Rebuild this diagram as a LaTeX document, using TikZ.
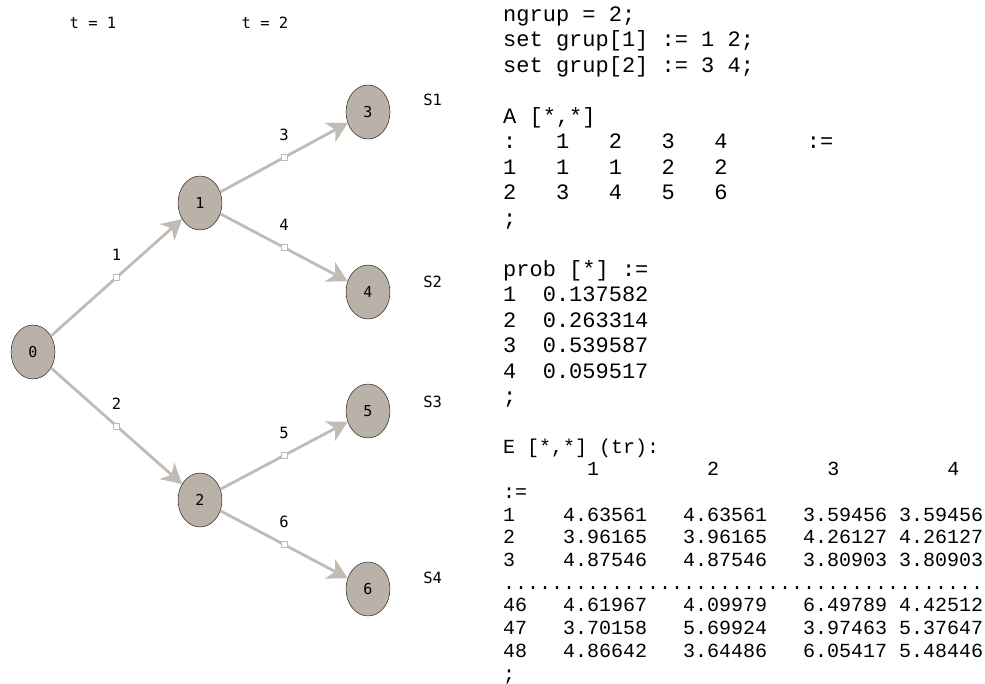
\documentclass[tikz,border=0pt]{standalone}
\usepackage{fontspec}
\setmonofont{Liberation Mono}
\newfontfamily\treefont{DejaVu Sans Mono}
\usetikzlibrary{arrows.meta, positioning, shapes.geometric}
\definecolor{scengray}{RGB}{186,178,168}
\definecolor{branchgray}{RGB}{194,187,179}
\tikzset{
  scen/.style={ellipse, draw=black, thin, fill=scengray, minimum width=44pt,
    minimum height=54pt, inner sep=0pt, font=\treefont\fontsize{15}{15}\selectfont},
  branch/.style={draw=branchgray, line width=2.8pt,
    -{Stealth[length=20pt,width=22pt,inset=6pt]}},
  midbox/.style={draw=branchgray, fill=white, line width=0.8pt, minimum size=6pt,
    inner sep=0pt},
  lbl/.style={font=\treefont\fontsize{15.5}{15.5}\selectfont, inner sep=0pt},
  codetext/.style={anchor=base west, inner sep=0pt, align=left}
}
\begin{document}
\begin{tikzpicture}[x=1pt, y=-1pt]
  \useasboundingbox (0,0) rectangle (985,683);

  \node[lbl] (t1) at (93,23) {t = 1};
  \node[lbl] (t2) at (265,23) {t = 2};

  \node[scen] (n0) at (33,352) {0};
  \node[scen] (n1) at (200,203) {1};
  \node[scen] (n2) at (200,500) {2};
  \node[scen] (n3) at (368,112) {3};
  \node[scen] (n4) at (368,292) {4};
  \node[scen] (n5) at (368,411) {5};
  \node[scen] (n6) at (368,589) {6};

  \node[lbl, right=33pt of n3, yshift=12pt] (s1) {S1};
  \node[lbl, right=33pt of n4, yshift=10pt] (s2) {S2};
  \node[lbl, right=33pt of n5, yshift=9pt] (s3) {S3};
  \node[lbl, right=33pt of n6, yshift=11pt] (s4) {S4};

  \draw[branch] (n0) -- node[midbox] (m1) {} (n1);
  \draw[branch] (n0) -- node[midbox] (m2) {} (n2);
  \draw[branch] (n1) -- node[midbox] (m3) {} (n3);
  \draw[branch] (n1) -- node[midbox] (m4) {} (n4);
  \draw[branch] (n2) -- node[midbox] (m5) {} (n5);
  \draw[branch] (n2) -- node[midbox] (m6) {} (n6);

  \node[lbl, above=13pt of m1] (l1) {1};
  \node[lbl, above=13pt of m2] (l2) {2};
  \node[lbl, above=13pt of m3] (l3) {3};
  \node[lbl, above=13pt of m4] (l4) {4};
  \node[lbl, above=13pt of m5] (l5) {5};
  \node[lbl, above=13pt of m6] (l6) {6};

  \node[codetext, font=\ttfamily\fontsize{22}{25.5}\selectfont] (sets) at (503,403.5)
    {ngrup = 2;\\
     set grup[1] := 1 2;\\
     set grup[2] := 3 4;\\
     ~\\
     A [*,*]\\
     :~~~1~~~2~~~3~~~4~~~~~~:=\\
     1~~~1~~~1~~~2~~~2\\
     2~~~3~~~4~~~5~~~6\\
     ;\\
     ~\\
     prob [*] :=\\
     1~~0.137582\\
     2~~0.263314\\
     3~~0.539587\\
     4~~0.059517\\
     ;};

  \node[codetext, font=\ttfamily\fontsize{20}{22.7}\selectfont] (etab) at (503,680)
    {E [*,*] (tr):\\
     ~~~~~~~1~~~~~~~~~2~~~~~~~~~3~~~~~~~~~4\\
     :=\\
     1~~~~4.63561~~~4.63561~~~3.59456~3.59456\\
     2~~~~3.96165~~~3.96165~~~4.26127~4.26127\\
     3~~~~4.87546~~~4.87546~~~3.80903~3.80903\\
     ........................................\\
     46~~~4.61967~~~4.09979~~~6.49789~4.42512\\
     47~~~3.70158~~~5.69924~~~3.97463~5.37647\\
     48~~~4.86642~~~3.64486~~~6.05417~5.48446\\
     ;};
\end{tikzpicture}
\end{document}
